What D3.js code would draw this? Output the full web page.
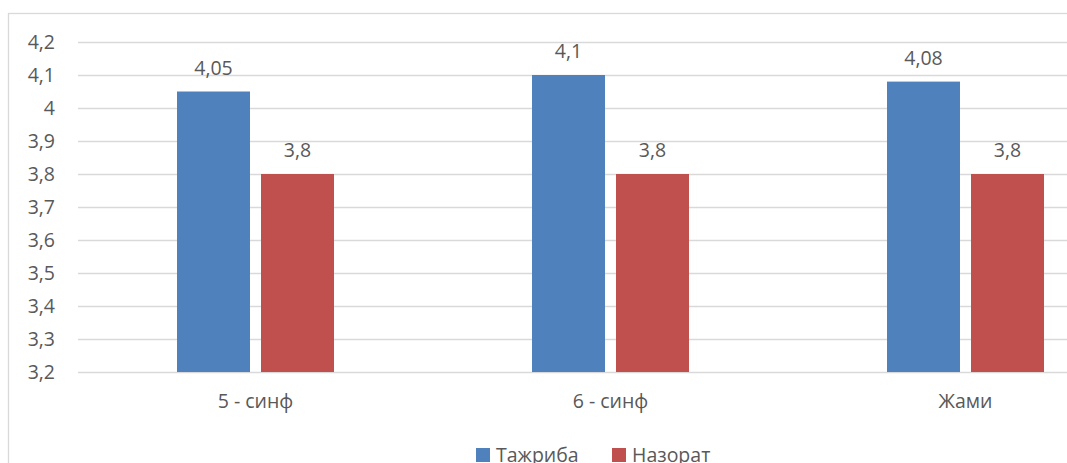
<!DOCTYPE html>
<html>
<head>
<meta charset="utf-8">
<script src="https://cdn.jsdelivr.net/npm/d3@7"></script>
<style>
  html, body { margin: 0; padding: 0; background: #fff; overflow: hidden; }
  svg { display: block; }
  text { font-family: "Open Sans", "Noto Sans", sans-serif; fill: #595959; }
</style>
</head>
<body>
<svg id="chart" width="1067" height="463"></svg>
<script>
const categories = ["5 - синф", "6 - синф", "Жами"];
const seriesNames = ["Тажриба", "Назорат"];
const tajriba = [4.05, 4.1, 4.08];
const nazorat = [3.8, 3.8, 3.8];
const tickValues = [3.2, 3.3, 3.4, 3.5, 3.6, 3.7, 3.8, 3.9, 4.0, 4.1, 4.2];
const colors = ["#4F81BD", "#C0504D"];

const fmt = v => String(+v.toFixed(2)).replace(".", ",");
const FS = 19.5;
const FF = "'Open Sans', 'Noto Sans', sans-serif";

const svg = d3.select("#chart");

// chart border (extends beyond viewport on right/bottom)
svg.append("rect")
  .attr("x", 8.5).attr("y", 13.5)
  .attr("width", 1200).attr("height", 600)
  .attr("fill", "none").attr("stroke", "#D9D9D9").attr("stroke-width", 1.3);

const plotLeft = 78, plotRight = 1143, plotTop = 42, plotBottom = 372;

const y = d3.scaleLinear().domain([3.2, 4.2]).range([plotBottom, plotTop]);
const x0 = d3.scaleBand().domain(categories).range([plotLeft, plotRight]).paddingInner(0).paddingOuter(0);

const barW = 73, gap = 11;
const x1 = d3.scaleOrdinal().domain(seriesNames).range([
  x0.bandwidth() / 2 - gap / 2 - barW,
  x0.bandwidth() / 2 + gap / 2
]);

// gridlines + y labels
const yAxis = d3.axisLeft(y).tickValues(tickValues).tickSize(-(plotRight - plotLeft)).tickFormat(fmt).tickPadding(23);
const gy = svg.append("g").attr("transform", `translate(${plotLeft},0)`).call(yAxis);
gy.select(".domain").remove();
gy.selectAll(".tick line").attr("stroke", "#D9D9D9").attr("stroke-width", 1.3);
gy.selectAll(".tick text").attr("font-size", FS).attr("fill", "#595959")
  .style("font-family", FF);

const data = categories.map((c, i) => ({ cat: c, vals: [
  { s: seriesNames[0], v: tajriba[i] },
  { s: seriesNames[1], v: nazorat[i] }
]}));

const groups = svg.append("g").selectAll("g").data(data).join("g")
  .attr("transform", d => `translate(${x0(d.cat)},0)`);

groups.selectAll("rect").data(d => d.vals).join("rect")
  .attr("x", d => x1(d.s))
  .attr("y", d => y(d.v))
  .attr("width", barW)
  .attr("height", d => y(3.2) - y(d.v))
  .attr("fill", (d, i) => colors[i]);

groups.selectAll("text.val").data(d => d.vals).join("text")
  .attr("class", "val")
  .attr("x", d => x1(d.s) + barW / 2)
  .attr("y", d => y(d.v) - 17)
  .attr("text-anchor", "middle")
  .attr("font-size", FS)
  .text(d => fmt(d.v));

// category labels
svg.append("g").selectAll("text").data(categories).join("text")
  .attr("x", d => x0(d) + x0.bandwidth() / 2)
  .attr("y", 408)
  .attr("text-anchor", "middle")
  .attr("font-size", FS)
  .text(d => d);

// legend
const legendX = [476, 612];
const lg = svg.append("g").selectAll("g").data(seriesNames).join("g")
  .attr("transform", (d, i) => `translate(${legendX[i]},0)`);
lg.append("rect").attr("x", 0).attr("y", 448).attr("width", 14).attr("height", 14)
  .attr("fill", (d, i) => colors[i]);
lg.append("text").attr("x", 20).attr("y", 462).attr("font-size", FS).text(d => d);
</script>
</body>
</html>
